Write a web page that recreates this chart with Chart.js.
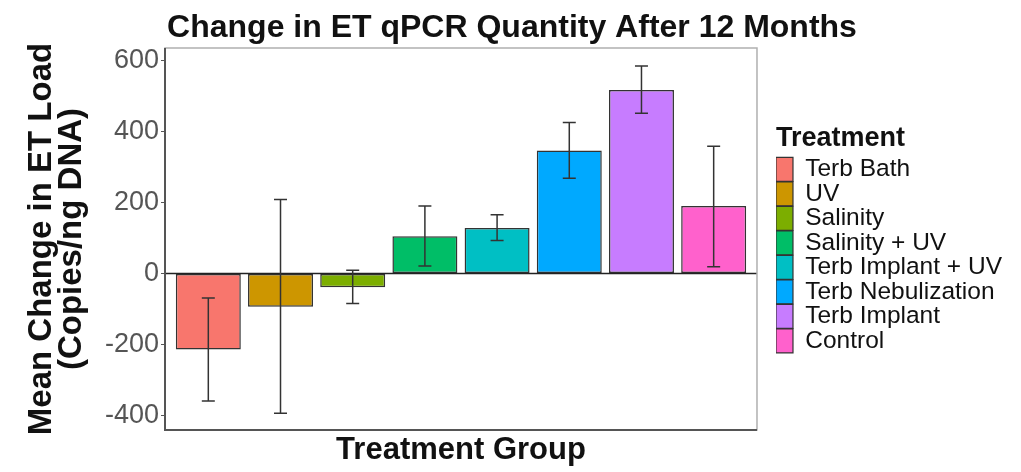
<!DOCTYPE html>
<html>
<head>
<meta charset="utf-8">
<script src="https://cdn.jsdelivr.net/npm/chart.js@4.4.1/dist/chart.umd.min.js"></script>
<style>
  body { margin: 0; background: #fff; }
  #wrap { width: 1021px; height: 472px; }
</style>
</head>
<body>
<div id="wrap"><canvas id="etChart" width="1021" height="472"></canvas></div>
<script>
const groups = ['Terb Bath', 'UV', 'Salinity', 'Salinity + UV', 'Terb Implant + UV', 'Terb Nebulization', 'Terb Implant', 'Control'];
const meanChange = [-214, -94, -39, 105, 128, 346, 517, 190];
const errLow = [-359, -394, -85, 21, 93, 268, 451, 19];
const errHigh = [-69, 208, 9, 190, 165, 425, 584, 358];
const barColors = ['#F8766D', '#CD9600', '#7CAE00', '#00BE67', '#00BFC4', '#00A9FF', '#C77CFF', '#FF61CC'];
const yTicks = [-400, -200, 0, 200, 400, 600];

const FONT = "'Liberation Sans', Arial, sans-serif";

// nudge legend away from the panel and centre the title on the page
const nudge = {
    id: 'nudge',
    afterLayout(chart) {
        const lg = chart.legend;
        lg.left += 19;
        lg.right += 19;
        const t = chart.titleBlock;
        const shift = 512 - (t.left + t.right) / 2;
        t.left += shift;
        t.right += shift;
    }
};

// panel border, zero line and error bars
const extras = {
    id: 'extras',
    afterDatasetsDraw(chart) {
        const ctx = chart.ctx;
        const a = chart.chartArea;
        const x = chart.scales.x;
        const y = chart.scales.y;
        ctx.save();

        // zero line
        const y0 = y.getPixelForValue(0);
        ctx.strokeStyle = '#222';
        ctx.lineWidth = 1.5;
        ctx.beginPath();
        ctx.moveTo(a.left, y0);
        ctx.lineTo(a.right, y0);
        ctx.stroke();

        // error bars
        ctx.strokeStyle = '#333';
        ctx.lineWidth = 1.5;
        const cap = 6.5;
        groups.forEach((g, i) => {
            const px = x.getPixelForValue(i + 1);
            const lo = y.getPixelForValue(errLow[i]);
            const hi = y.getPixelForValue(errHigh[i]);
            ctx.beginPath();
            ctx.moveTo(px, lo);
            ctx.lineTo(px, hi);
            ctx.moveTo(px - cap, lo);
            ctx.lineTo(px + cap, lo);
            ctx.moveTo(px - cap, hi);
            ctx.lineTo(px + cap, hi);
            ctx.stroke();
        });

        // panel border
        ctx.strokeStyle = '#b0b0b0';
        ctx.lineWidth = 1.5;
        ctx.strokeRect(a.left, a.top, a.right - a.left, a.bottom - a.top);
        ctx.strokeStyle = '#555';
        ctx.lineWidth = 2;
        ctx.beginPath();
        ctx.moveTo(a.left, a.top);
        ctx.lineTo(a.left, a.bottom);
        ctx.lineTo(a.right, a.bottom);
        ctx.stroke();
        ctx.restore();
    }
};

const ctx = document.getElementById('etChart').getContext('2d');
new Chart(ctx, {
    type: 'bar',
    data: {
        datasets: [{
            label: 'Mean change',
            data: meanChange.map((v, i) => ({x: i + 1, y: v})),
            backgroundColor: barColors,
            borderColor: '#333',
            borderWidth: 1.5,
            borderSkipped: false,
            barPercentage: 0.9,
            categoryPercentage: 1.0
        }]
    },
    options: {
        responsive: false,
        animation: false,
        layout: { padding: { left: 0, right: 28, top: 0, bottom: 0 } },
        plugins: {
            tooltip: { enabled: false },
            title: {
                display: true,
                text: 'Change in ET qPCR Quantity After 12 Months',
                color: '#111',
                font: { family: FONT, size: 32, weight: 'bold', lineHeight: 1.2 },
                padding: { top: 9, bottom: 0.6 }
            },
            legend: {
                position: 'right',
                fullSize: false,
                align: 'center',
                title: {
                    display: true,
                    text: 'Treatment',
                    position: 'start',
                    color: '#111',
                    font: { family: FONT, size: 27, weight: 'bold', lineHeight: 1.2 },
                    padding: 0
                },
                labels: {
                    boxWidth: 17,
                    boxHeight: 24,
                    padding: 0,
                    color: '#222',
                    font: { family: FONT, size: 24.5 },
                    generateLabels: () => groups.map((g, i) => ({
                        text: g,
                        fillStyle: barColors[i],
                        strokeStyle: '#333',
                        lineWidth: 1.2,
                        hidden: false,
                        index: i
                    }))
                }
            }
        },
        scales: {
            x: {
                type: 'linear',
                position: 'bottom',
                offset: false,
                min: 0.4,
                max: 8.6,
                grid: { display: false },
                border: { display: false },
                afterBuildTicks(s) { s.ticks = groups.map((g, i) => ({value: i + 1})); },
                ticks: { display: false },
                title: {
                    display: true,
                    text: 'Treatment Group',
                    color: '#111',
                    font: { family: FONT, size: 31, weight: 'bold', lineHeight: 1.2 },
                    padding: { top: 0, bottom: 3 }
                },
                afterFit(s) { s.height = 42; }
            },
            y: {
                min: -441,
                max: 635,
                grid: {
                    drawOnChartArea: false,
                    drawTicks: true,
                    tickLength: 4,
                    color: '#555'
                },
                border: { display: false },
                afterBuildTicks(s) { s.ticks = yTicks.map(v => ({value: v})); },
                ticks: {
                    color: '#555',
                    padding: 2,
                    font: { family: FONT, size: 27 }
                },
                title: {
                    display: true,
                    text: ['Mean Change in ET Load', '(Copies/ng DNA)'],
                    color: '#111',
                    font: { family: FONT, size: 33, weight: 'bold', lineHeight: 0.9 },
                    padding: { top: 27, bottom: 0 }
                },
                afterFit(s) { s.width = 165; }
            }
        }
    },
    plugins: [nudge, extras]
});
</script>
</body>
</html>
